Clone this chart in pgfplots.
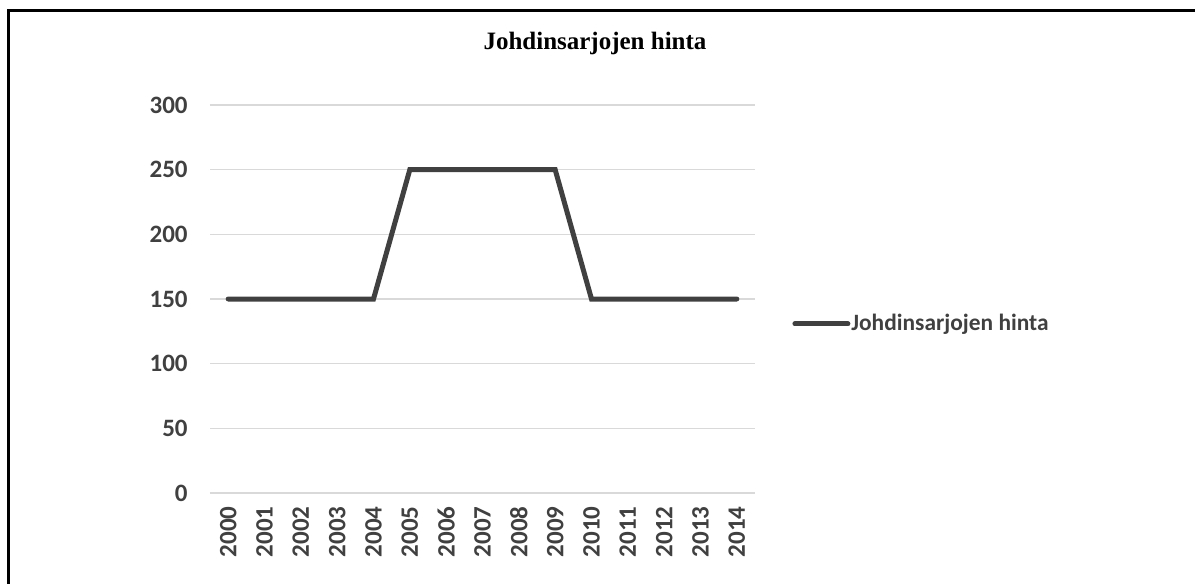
\documentclass[border=0pt]{standalone}
\usepackage{fontspec}
\setmainfont{Carlito}
\newfontfamily\titlefont{Liberation Serif}
\usepackage{pgfplots}
\pgfplotsset{compat=1.18}
\definecolor{serie}{RGB}{64,64,64}
\definecolor{txt}{RGB}{64,64,64}
\definecolor{gridc}{RGB}{217,217,217}
\begin{document}
\begin{tikzpicture}
\useasboundingbox (0,0) rectangle (597.5pt,292pt);
\draw[line width=1.5pt] (4pt,0) -- (4pt,286.5pt) -- (597.5pt,286.5pt);
\node[font=\titlefont\bfseries\fontsize{12.5}{14}\selectfont, text=black] at (297.5pt,270.5pt) {Johdinsarjojen hinta};
\begin{axis}[
  at={(105pt,45.5pt)}, anchor=south west,
  scale only axis, width=272.5pt, height=194pt,
  xmin=-0.5, xmax=14.5, ymin=0, ymax=300,
  xtick={0,...,14},
  xticklabels={2000,2001,2002,2003,2004,2005,2006,2007,2008,2009,2010,2011,2012,2013,2014},
  ytick={0,50,100,150,200,250,300},
  axis line style={draw=none},
  major tick length=0pt,
  ymajorgrids, grid style={gridc, line width=0.75pt},
  /pgf/number format/assume math mode=true,
  tick label style={font=\bfseries\fontsize{12.5}{14}\selectfont, text=txt},
  yticklabel style={inner sep=0pt, xshift=-11pt},
  xticklabel style={yshift=-6.5pt, rotate=90, anchor=east, inner sep=0pt},
  legend style={at={(1,0.4356)}, anchor=west, xshift=18.5pt, draw=none, fill=none,
    inner sep=0pt, font=\bfseries\fontsize{11.7}{14}\selectfont, text=txt,
    nodes={inner xsep=0.5pt}},
  legend image code/.code={\draw[#1, line cap=round] (0pt,0pt) -- (26.5pt,0pt);},
]
\addplot[serie, line width=2.5pt, line cap=round, mark=none] coordinates {
(0,150) (1,150) (2,150) (3,150) (4,150) (5,250) (6,250) (7,250) (8,250) (9,250)
(10,150) (11,150) (12,150) (13,150) (14,150)};
\addlegendentry{Johdinsarjojen hinta}
\end{axis}
\end{tikzpicture}
\end{document}
